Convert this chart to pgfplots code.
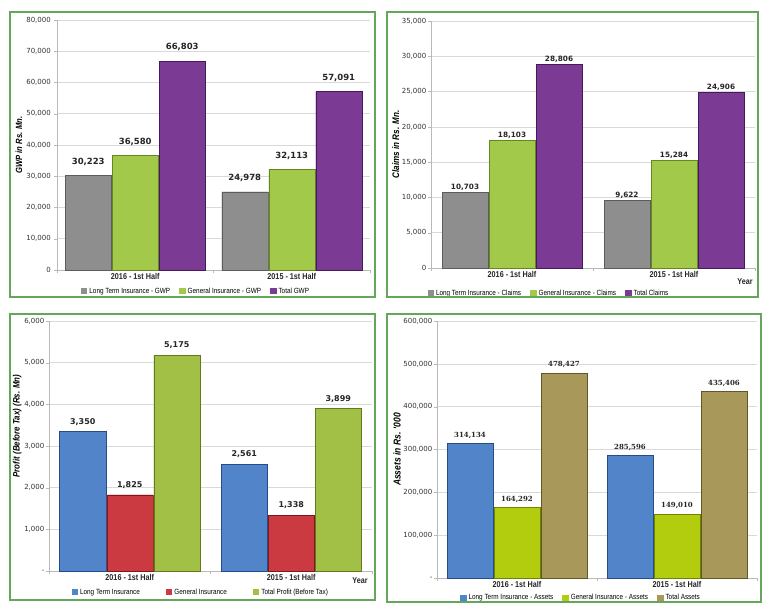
\documentclass[border=0pt]{standalone}
\usepackage{fontspec}
\setmainfont{Liberation Sans}
\newfontfamily\narrowfont[FakeStretch=0.85]{Liberation Sans}
\newfontfamily\tickfont{DejaVu Sans}
\newfontfamily\serifval{DejaVu Serif}
\usepackage{pgfplots}
\pgfplotsset{compat=1.18}

\definecolor{frame}{RGB}{98,168,88}
\definecolor{cgray}{RGB}{142,142,142}\definecolor{cgrayd}{RGB}{92,92,92}
\definecolor{cgreen}{RGB}{163,201,74}\definecolor{cgreend}{RGB}{100,135,32}
\definecolor{cpurp}{RGB}{123,58,148}\definecolor{cpurpd}{RGB}{70,26,90}
\definecolor{cblue}{RGB}{82,132,202}\definecolor{cblued}{RGB}{38,76,135}
\definecolor{cred}{RGB}{202,58,64}\definecolor{credd}{RGB}{125,24,30}
\definecolor{colive}{RGB}{162,192,70}\definecolor{colived}{RGB}{98,122,30}
\definecolor{clime}{RGB}{178,204,14}\definecolor{climed}{RGB}{112,132,0}
\definecolor{ckhaki}{RGB}{168,152,90}\definecolor{ckhakid}{RGB}{96,86,42}

\newcommand\mkshade[1]{\pgfdeclarehorizontalshading{sh#1}{100bp}{color(0bp)=(#1d); color(6bp)=(#1); color(86bp)=(#1); color(100bp)=(#1d)}}
\mkshade{cgray}\mkshade{cgreen}\mkshade{cpurp}\mkshade{cblue}\mkshade{cred}
\mkshade{colive}\mkshade{clime}\mkshade{ckhaki}

\pgfplotsset{
 mybar/.style={fill=#1, draw=#1d, line width=0.5pt, shade, shading=sh#1,
   legend image code/.code={\pgfsetfillcolor{#1}\pgfpathrectangle{\pgfpoint{0pt}{-2.8pt}}{\pgfpoint{6.5pt}{6pt}}\pgfusepath{fill}}},
 panel/.style={
  scale only axis, ybar=1pt, bar width=46pt, ymin=0,
  xmin=-0.5, xmax=1.5,
  xtick={-0.5,0.5,1.5}, xticklabels={},
  extra x ticks={0,1}, extra x tick labels={2016 - 1st Half,2015 - 1st Half},
  extra x tick style={major tick length=0pt, tick label style={font=\narrowfont\bfseries\fontsize{8.5}{10}\selectfont, text=black!85}},
  axis x line*=bottom, axis y line*=left, axis line style={-, draw=gray!55},
  ymajorgrids, grid style={draw=gray!30, line width=0.5pt},
  tick align=outside, major tick length=3pt, tick style={draw=gray!55},
  scaled y ticks=false,
  y tick label style={font=\tickfont\fontsize{7}{8}\selectfont, text=black!80, inner xsep=1.5pt},
  ylabel style={font=\narrowfont\bfseries\itshape\fontsize{9}{10}\selectfont, inner sep=1pt},
  clip=false,
  nodes near coords,
  /pgf/number format/.cd, fixed, precision=0, 1000 sep={,}, assume math mode=true, /pgfplots/.cd,
  legend style={draw=none, fill=none, font=\narrowfont\fontsize{7.5}{9}\selectfont, legend columns=-1, anchor=north, /tikz/every even column/.append style={column sep=7pt}},
  legend cell align=left,
 }
}

\begin{document}
\begin{tikzpicture}
\fill[white] (0pt,0pt) rectangle (770pt,608pt);
\useasboundingbox (0pt,0pt) rectangle (770pt,608pt);

% Panel 1
\begin{axis}[panel, at={(57pt,338pt)}, anchor=south west, width=313pt, height=250pt,
  ymax=80000, ytick={0,10000,20000,30000,40000,50000,60000,70000,80000},
  yticklabels={0,{10,000},{20,000},{30,000},{40,000},{50,000},{60,000},{70,000},{80,000}},
  y tick label style={inner xsep=3pt},
  ylabel={GWP in Rs. Mn.},
  every node near coord/.append style={font=\tickfont\bfseries\fontsize{8.5}{10}\selectfont, inner sep=1pt, yshift=9pt, text=black!85},
  legend style={at={(0.444,-0.056)}}]
\addplot[mybar=cgray] coordinates {(0,30223) (1,24978)};
\addplot[mybar=cgreen] coordinates {(0,36580) (1,32113)};
\addplot[mybar=cpurp] coordinates {(0,66803) (1,57091)};
\legend{Long Term Insurance - GWP, General Insurance - GWP, Total GWP}
\end{axis}

% Panel 2
\begin{axis}[panel, at={(431pt,340pt)}, anchor=south west, width=324pt, height=247pt,
  ymax=35000, ytick={0,5000,10000,15000,20000,25000,30000,35000},
  yticklabels={0,{5,000},{10,000},{15,000},{20,000},{25,000},{30,000},{35,000}},
  ylabel={Claims in Rs. Mn.},
  ylabel style={font=\narrowfont\bfseries\itshape\fontsize{9.5}{10}\selectfont},
  every node near coord/.append style={font=\tickfont\bfseries\fontsize{7.3}{9}\selectfont, inner sep=1pt, yshift=0.5pt, text=black!85},
  legend style={at={(0.364,-0.073)}}]
\addplot[mybar=cgray] coordinates {(0,10703) (1,9622)};
\addplot[mybar=cgreen] coordinates {(0,18103) (1,15284)};
\addplot[mybar=cpurp] coordinates {(0,28806) (1,24906)};
\legend{Long Term Insurance - Claims, General Insurance - Claims, Total Claims}
\node[font=\narrowfont\bfseries\fontsize{8.5}{10}\selectfont, text=black!85] at (rel axis cs:0.969,-0.057) {Year};
\end{axis}

% Panel 3
\begin{axis}[panel, at={(49pt,37pt)}, anchor=south west, width=323pt, height=250pt,
  ymax=6000, ytick={0,1000,2000,3000,4000,5000,6000},
  yticklabels={-,{1,000},{2,000},{3,000},{4,000},{5,000},{6,000}},
  ylabel={Profit (Before Tax) (Rs. Mn)},
  ylabel style={at={(ticklabel cs:0.58)}, font=\narrowfont\bfseries\itshape\fontsize{9.3}{10}\selectfont},
  every node near coord/.append style={font=\tickfont\bfseries\fontsize{8}{9}\selectfont, inner sep=1pt, yshift=5pt, text=black!85},
  legend style={at={(0.47,-0.056)}, /tikz/every even column/.append style={column sep=24pt}}]
\addplot[mybar=cblue] coordinates {(0,3350) (1,2561)};
\addplot[mybar=cred] coordinates {(0,1825) (1,1338)};
\addplot[mybar=colive] coordinates {(0,5175) (1,3899)};
\legend{Long Term Insurance, General Insurance, Total Profit (Before Tax)}
\node[font=\narrowfont\bfseries\fontsize{8.5}{10}\selectfont, text=black!85] at (rel axis cs:0.963,-0.04) {Year};
\end{axis}

% Panel 4
\begin{axis}[panel, at={(437pt,30pt)}, anchor=south west, width=320pt, height=257pt,
  ymax=600000, ytick={0,100000,200000,300000,400000,500000,600000},
  yticklabels={-,{100,000},{200,000},{300,000},{400,000},{500,000},{600,000}},
  ylabel={Assets in Rs. '000},
  ylabel style={font=\narrowfont\bfseries\itshape\fontsize{10}{11}\selectfont},
  every node near coord/.append style={font=\serifval\bfseries\fontsize{7}{8}\selectfont, inner sep=1pt, yshift=4pt, text=black!85},
  legend style={at={(0.45,-0.047)}}]
\addplot[mybar=cblue] coordinates {(0,314134) (1,285596)};
\addplot[mybar=clime] coordinates {(0,164292) (1,149010)};
\addplot[mybar=ckhaki] coordinates {(0,478427) (1,435406)};
\legend{Long Term Insurance - Assets, General Insurance - Assets, Total Assets}
\end{axis}

\draw[frame, line width=1.1pt] (10pt,311pt) rectangle (375pt,596pt);
\draw[frame, line width=1.1pt] (387pt,311pt) rectangle (758pt,596pt);
\draw[frame, line width=1.1pt] (10pt,8pt) rectangle (375pt,294pt);
\draw[frame, line width=1.1pt] (387pt,6pt) rectangle (761pt,294pt);
\end{tikzpicture}
\end{document}
